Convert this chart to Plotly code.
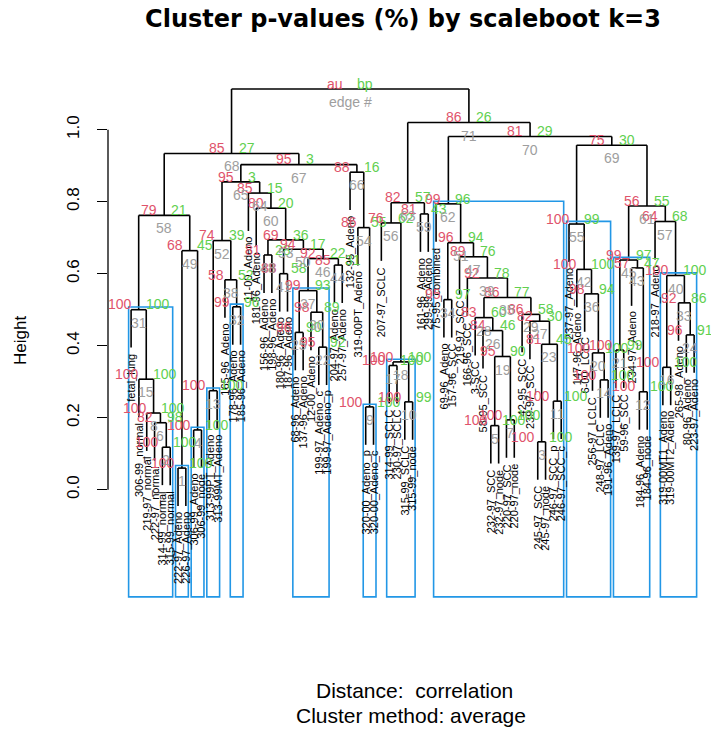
import plotly.graph_objects as go

# ---- data: leaf labels in dendrogram order ----
labels = [
    "fetal_lung", "306-99_normal", "219-97_normal", "222-97_normal", "314-99_normal",
    "315-99_normal", "222-97_Adeno", "226-97_Adeno", "306-99_Adeno", "306-99_node",
    "313-99PT_Adeno", "313-99MT_Adeno", "165-96_Adeno", "178-96_Adeno", "185-96_Adeno",
    "11-00_Adeno", "181-96_Adeno", "156-96_Adeno", "198-96_Adeno", "180-96_Adeno",
    "187-96_Adeno", "68-96_Adeno", "137-96_Adeno", "12-00_Adeno", "199-97_Adeno_c",
    "199-97_Adeno_p", "204-97_Adeno", "257-97_Adeno", "132-95_Adeno", "319-00PT_Adeno",
    "320-00_Adeno_p", "320-00_Adeno_c", "207-97_SCLC", "314-99_SCLC", "230-97_SCLC",
    "315-99_SCLC", "315-99_node", "161-96_Adeno", "299-99_Adeno", "75-95_combined",
    "69-96_Adeno", "157-96_SCC", "219-97_SCC", "166-96_SCC", "3-SCC",
    "58-95_SCC", "232-97_SCC", "232-97_node", "220-97_SCC", "220-97_node",
    "42-95_SCC", "239-97_SCC", "245-97_SCC", "245-97_node", "246-97_SCC_p",
    "246-97_SCC_c", "237-97_Adeno", "147-96_Adeno", "6-00_LCLC", "256-97_LCLC",
    "248-97_LCLC", "191-96_Adeno", "139-97_LCLC", "59-96_SCC", "234-97_Adeno",
    "184-96_Adeno", "184-96_node", "218-97_Adeno", "319-00MT1_Adeno", "319-00MT2_Adeno",
    "265-98_Adeno", "80-96_Adeno", "223-97_Adeno",
]

# ---- data: hclust-style merge table (negative = leaf, positive = earlier merge) ----
merges = [
    (-7, -8), (-5, -6), (-53, -54), (-9, -10), (-47, -48),
    (-4, 2), (-49, -50), (-3, 6), (-31, -32), (-36, -37),
    (-55, -56), (-66, -67), (-11, -12), (-61, -62), (-2, 8),
    (-69, -70), (-34, -35), (17, 10), (5, 7), (-60, 14),
    (-63, -64), (-25, -26), (3, 11), (-72, -73), (-22, -23),
    (-46, 19), (-52, 23), (-45, 26), (-51, 27), (-24, 22),
    (-1, 15), (-14, -15), (-71, 24), (-41, -42), (28, 29),
    (-59, 20), (25, 30), (-13, 32), (-44, 35), (16, 33),
    (-20, -21), (-58, 36), (-65, 12), (-27, -28), (21, 43),
    (37, 44), (-43, 39), (-18, -19), (1, 4), (41, 46),
    (34, 47), (13, 38), (48, 50), (-30, 9), (-57, 42),
    (-33, 18), (-68, 40), (31, 49), (-38, -39), (-17, 53),
    (45, 57), (-40, 51), (56, 59), (-16, 60), (52, 64),
    (-29, 54), (65, 66), (58, 67), (55, 61), (62, 69),
    (63, 70), (68, 71),
]

heights = [
    0.060, 0.118, 0.133, 0.166, 0.178, 0.186, 0.194, 0.213, 0.230, 0.244,
    0.246, 0.272, 0.275, 0.305, 0.307, 0.340, 0.345, 0.355, 0.370, 0.380,
    0.388, 0.396, 0.404, 0.430, 0.437, 0.442, 0.468, 0.478, 0.487, 0.493,
    0.500, 0.508, 0.519, 0.528, 0.534, 0.544, 0.553, 0.583, 0.588, 0.595,
    0.600, 0.612, 0.616, 0.624, 0.638, 0.642, 0.647, 0.652, 0.664, 0.668,
    0.686, 0.692, 0.694, 0.728, 0.738, 0.741, 0.745, 0.762, 0.766, 0.782,
    0.788, 0.794, 0.797, 0.824, 0.855, 0.882, 0.903, 0.934, 0.957, 0.981,
    1.020, 1.113,
]

# approximately unbiased p-values (%)
au = [
    100, 100, 100, 100, 100, 82, 100, 100, 100, 100,
    100, 100, 100, 100, 100, 100, 100, 100, 95, 100,
    100, 95, 81, 96, 96, 84, 82, 83, 86, 98,
    100, 99, 92, 95, 86, 98, 99, 58, 92, 100,
    88, 100, 57, 85, 99, 92, 89, 81, 68, 94,
    96, 74, 69, 86, 100, 76, 64, 79, 81, 80,
    56, 99, 82, 85, 94.7, 88, 94.8, 85, 75, 81,
    86, 100,
]

# bootstrap probabilities (%)
bp = [
    100, 100, 100, 100, 100, 98, 100, 100, 100, 99,
    100, 100, 100, 100, 100, 100, 100, 100, 90, 100,
    99, 92, 45, 91, 90, 46, 30, 60, 58, 89,
    100, 96, 86, 97, 77, 94, 93, 52, 78, 100,
    58, 100, 47, 31, 97, 22, 76, 28, 45, 17,
    94, 39, 36, 55, 99, 62, 68, 21, 43, 20,
    55, 96, 57, 15, 3, 16, 3, 27, 30, 29,
    26, 100,
]

# ---- styling ----
AU_COL, BP_COL, EDGE_COL, RECT_COL = "#DF536B", "#61D04F", "#9E9E9E", "#2297E6"
FONT = "Liberation Sans, Arial, Helvetica, sans-serif"
TITLE_FONT = "DejaVu Sans, Liberation Sans, sans-serif"
W, H = 711, 729
L_MARGIN = 108
X0_PX, DX_PX = 131.1, 7.82         # pixel position of leaf 1 and leaf spacing
Y0_PX, PX_PER_UNIT = 489.7, 360.0  # pixel row of height 0 and pixels per unit height

n = len(labels)
nm = len(merges)

# leaf order from traversal of the merge table
def leaves_of(ref):
    if ref < 0:
        return [-ref]
    a, b = merges[ref - 1]
    return leaves_of(a) + leaves_of(b)

order = leaves_of(nm)
leaf_x = {leaf: i + 1 for i, leaf in enumerate(order)}

def ref_x(ref):
    return leaf_x[-ref] if ref < 0 else node_x[ref - 1]

node_x = [0.0] * nm
for i, (a, b) in enumerate(merges):
    node_x[i] = (ref_x(a) + ref_x(b)) / 2

hang = 0.1 * (max(heights) - min(heights))

# dendrogram segments
seg_x, seg_y = [], []
leaf_end = {}
for i, (a, b) in enumerate(merges):
    h = heights[i]
    for ref in (a, b):
        if ref < 0:
            y_low = h - hang
            leaf_end[-ref] = y_low
        else:
            y_low = heights[ref - 1]
        x = ref_x(ref)
        seg_x += [x, x, None]
        seg_y += [y_low, h, None]
    seg_x += [ref_x(a), ref_x(b), None]
    seg_y += [h, h, None]

fig = go.Figure()
fig.add_trace(go.Scatter(x=seg_x, y=seg_y, mode="lines",
                         line=dict(color="black", width=1.6),
                         hoverinfo="skip", showlegend=False))

# plot range in data units, matching the pixel calibration above
x_lo = 1 + (L_MARGIN - X0_PX) / DX_PX
x_hi = 1 + (W - X0_PX) / DX_PX
y_lo = (Y0_PX - H) / PX_PER_UNIT
y_hi = Y0_PX / PX_PER_UNIT

annotations = []

# leaf labels, hanging below each leaf
for leaf in order:
    annotations.append(dict(
        x=leaf_x[leaf], y=leaf_end[leaf], text=labels[leaf - 1],
        textangle=-90, xanchor="center", yanchor="top", yshift=-4,
        showarrow=False, font=dict(family=FONT, size=11, color="black")))

# au / bp / edge number labels at each merge
usr_span = 1.47
float_y = 0.01 * usr_span
for i in range(nm):
    last = i == nm - 1
    au_txt = "au" if last else str(int(round(au[i])))
    bp_txt = "bp" if last else str(int(round(bp[i])))
    ed_txt = "edge #" if last else str(i + 1)
    x, h = node_x[i], heights[i]
    annotations.append(dict(x=x, y=h + float_y, text=au_txt, xanchor="right",
                            yanchor="middle", xshift=-5, showarrow=False,
                            font=dict(family=FONT, size=14, color=AU_COL)))
    annotations.append(dict(x=x, y=h + float_y, text=bp_txt, xanchor="left",
                            yanchor="middle", xshift=5, showarrow=False,
                            font=dict(family=FONT, size=14, color=BP_COL)))
    annotations.append(dict(x=x, y=h, text=ed_txt, xanchor="center",
                            yanchor="top", yshift=-3, showarrow=False,
                            font=dict(family=FONT, size=14, color=EDGE_COL)))

# rectangles around the largest clusters with au >= 95
shapes = []
mx = (x_hi - x_lo) / n / 3 * 0.9
my = usr_span / 200
rect_bottom = -0.305
covered = set()
for i in range(nm - 2, -1, -1):
    if au[i] >= 95:
        pos = [leaf_x[m] for m in leaves_of(i + 1)]
        if not covered.intersection(pos):
            shapes.append(dict(type="rect", xref="x", yref="y",
                               x0=min(pos) - mx, x1=max(pos) + mx,
                               y0=rect_bottom + my, y1=heights[i] + my,
                               line=dict(color=RECT_COL, width=1.6),
                               fillcolor="rgba(0,0,0,0)"))
        covered.update(pos)

# y axis line spanning the tick range only
tick_vals = [0.0, 0.2, 0.4, 0.6, 0.8, 1.0]
tick_text = ["0.0", "0.2", "0.4", "0.6", "0.8", "1.0"]
shapes.append(dict(type="line", xref="paper", yref="y", x0=0, x1=0,
                   y0=tick_vals[0], y1=tick_vals[-1],
                   line=dict(color="black", width=1.3)))

def px_to_paper_x(px):
    return (px - L_MARGIN) / (W - L_MARGIN)

def px_to_paper_y(py):
    return (H - py) / H

annotations.append(dict(x=px_to_paper_x(20), y=px_to_paper_y(341), xref="paper", yref="paper",
                        text="Height", textangle=-90, showarrow=False,
                        xanchor="center", yanchor="middle",
                        font=dict(family=FONT, size=17, color="black")))
annotations.append(dict(x=px_to_paper_x(414), y=px_to_paper_y(690), xref="paper", yref="paper",
                        text="Distance:  correlation", showarrow=False,
                        xanchor="center", yanchor="middle",
                        font=dict(family=FONT, size=21, color="black")))
annotations.append(dict(x=px_to_paper_x(411), y=px_to_paper_y(715), xref="paper", yref="paper",
                        text="Cluster method: average", showarrow=False,
                        xanchor="center", yanchor="middle",
                        font=dict(family=FONT, size=21, color="black")))

fig.update_layout(
    width=W, height=H,
    margin=dict(l=L_MARGIN, r=0, t=0, b=0, autoexpand=False),
    paper_bgcolor="white", plot_bgcolor="white",
    title=dict(text="<b>Cluster p-values (%) by scaleboot k=3</b>",
               x=403 / W, xanchor="center", y=1 - 19 / H, yanchor="middle",
               xref="container", yref="container",
               font=dict(family=TITLE_FONT, size=24, color="black")),
    xaxis=dict(range=[x_lo, x_hi], visible=False, fixedrange=True),
    yaxis=dict(range=[y_lo, y_hi], showgrid=False, zeroline=False, showline=False,
               tickvals=tick_vals, ticktext=tick_text, tickangle=-90,
               ticks="outside", ticklen=10, tickwidth=1.3, tickcolor="black",
               ticklabelstandoff=11,
               tickfont=dict(family=FONT, size=17, color="black"), fixedrange=True),
    annotations=annotations,
    shapes=shapes,
    showlegend=False,
)

fig.write_html("out.html")
